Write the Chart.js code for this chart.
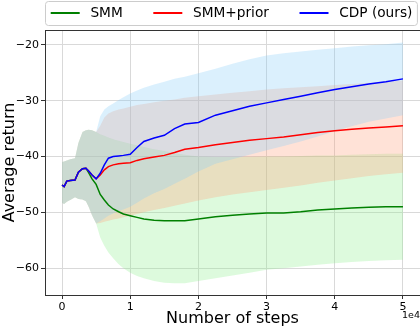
<!DOCTYPE html>
<html>
<head>
<meta charset="utf-8">
<script src="https://cdn.jsdelivr.net/npm/chart.js@4"></script>
<style>
  body { margin: 0; background: #fff; }
</style>
</head>
<body>
<canvas id="myChart" width="420" height="328"></canvas>
<script>
// steps (x axis shown in units of 1e4)
const steps = [0, 300, 700, 1200, 1900, 2400, 3000, 3500, 3900, 4400, 5000,
  5600, 6200, 6800, 7500, 8300, 9000, 10000, 11000, 12000, 13500, 15000, 16500, 18000,
  20000, 22500, 25000, 27500, 30000, 32500, 35000, 37500, 40000, 42500, 45000, 47500, 50000];

const xTicks = [0, 10000, 20000, 30000, 40000, 50000];
const yTicks = [-60, -50, -40, -30, -20];

// SMM
const smm = [-45.1, -45.4, -44.4, -44.3, -44.2, -42.8, -42.2, -42.1, -42.9, -44.0, -45.0,
  -46.8, -47.8, -48.7, -49.4, -49.9, -50.3, -50.6, -50.9, -51.2, -51.4, -51.5, -51.5, -51.5,
  -51.2, -50.8, -50.5, -50.3, -50.1, -50.1, -49.9, -49.6, -49.4, -49.2, -49.1, -49.0, -49.0];
const smmUpper = [-41.0, -40.9, -40.7, -40.5, -40.3, -37.6, -35.6, -35.3, -35.2, -35.3, -35.6,
  -36.0, -36.3, -36.6, -36.9, -37.2, -37.4, -37.7, -38.0, -38.3, -38.7, -39.0, -39.4, -39.7,
  -40.0, -40.1, -40.1, -40.1, -40.0, -40.0, -39.9, -39.8, -39.8, -39.7, -39.6, -39.5, -39.5];
const smmLower = [-48.3, -48.5, -48.1, -47.8, -47.3, -47.6, -47.7, -48.0, -49.0, -50.5, -52.0,
  -54.5, -56.0, -57.2, -58.2, -59.3, -60.0, -60.8, -61.4, -61.8, -62.3, -62.6, -62.7, -62.7,
  -62.3, -61.8, -61.3, -60.8, -60.3, -60.0, -59.7, -59.4, -59.1, -58.9, -58.7, -58.6, -58.5];

// SMM+prior
const prior = [-45.1, -45.4, -44.4, -44.3, -44.2, -42.8, -42.2, -42.1, -42.6, -43.3, -44.0,
  -43.3, -42.4, -41.8, -41.5, -41.3, -41.2, -41.1, -40.7, -40.4, -40.1, -39.8, -39.3, -38.7,
  -38.4, -37.9, -37.5, -37.1, -36.8, -36.5, -36.1, -35.7, -35.4, -35.1, -34.9, -34.7, -34.5];
const priorUpper = [-41.0, -40.9, -40.7, -40.5, -40.3, -37.6, -35.6, -35.3, -35.2, -35.3, -35.6,
  -34.5, -33.0, -32.3, -31.9, -31.6, -31.4, -31.1, -30.8, -30.6, -30.3, -30.0, -29.8, -29.5,
  -29.2, -28.9, -28.6, -28.3, -28.0, -27.8, -27.6, -27.4, -27.2, -27.0, -26.8, -26.6, -26.4];
const priorLower = [-48.3, -48.5, -48.1, -47.8, -47.3, -47.6, -47.7, -48.0, -49.0, -50.5, -52.0,
  -51.9, -51.7, -51.5, -51.3, -51.1, -50.9, -50.6, -50.3, -50.0, -49.6, -49.2, -48.8, -48.4,
  -47.9, -47.3, -46.8, -46.4, -46.0, -45.6, -45.2, -44.7, -44.3, -43.9, -43.5, -43.2, -42.9];

// CDP (ours)
const cdp = [-45.1, -45.4, -44.4, -44.3, -44.2, -42.8, -42.2, -42.1, -42.6, -43.3, -44.0,
  -43.0, -41.5, -40.3, -40.0, -39.9, -39.8, -39.6, -38.4, -37.3, -36.7, -36.2, -35.0, -34.2,
  -33.9, -32.6, -31.8, -31.0, -30.4, -29.8, -29.2, -28.6, -28.0, -27.5, -27.0, -26.6, -26.1];
const cdpUpper = [-41.0, -40.9, -40.7, -40.5, -40.3, -37.6, -35.6, -35.3, -35.2, -35.3, -35.6,
  -32.8, -31.6, -31.0, -30.5, -29.9, -29.4, -28.7, -28.2, -27.7, -27.1, -26.6, -26.1, -25.7,
  -25.1, -24.3, -23.4, -22.6, -21.9, -21.5, -21.2, -20.9, -20.6, -20.3, -20.1, -19.9, -19.6];
const cdpLower = [-48.3, -48.5, -48.1, -47.8, -47.3, -47.6, -47.7, -48.0, -49.0, -50.5, -52.0,
  -51.6, -51.1, -50.6, -50.2, -49.8, -49.5, -49.0, -48.3, -47.5, -46.6, -45.8, -44.9, -44.0,
  -42.7, -41.3, -40.5, -39.7, -38.9, -38.1, -37.3, -36.4, -35.5, -34.6, -33.8, -33.2, -32.6];

const FONT = '"DejaVu Sans", sans-serif';

function pts(arr) {
  return steps.map((s, i) => ({ x: s, y: arr[i] }));
}

function lineSet(label, arr, color, order) {
  return {
    label: label, data: pts(arr), borderColor: color, backgroundColor: color,
    borderWidth: 1.5, pointRadius: 0, fill: false, order: order, tension: 0
  };
}

function edgeSet(arr, order, fillTo, fillColor) {
  return {
    label: '', data: pts(arr), borderColor: 'transparent', borderWidth: 0,
    backgroundColor: fillColor || 'transparent', pointRadius: 0,
    fill: fillTo === undefined ? false : fillTo, order: order, tension: 0
  };
}

// lines first (legend order), then bands
const datasets = [
  lineSet('SMM', smm, '#008000', 2),
  lineSet('SMM+prior', prior, '#ff0000', 1),
  lineSet('CDP (ours)', cdp, '#0000ff', 0),
  edgeSet(cdpUpper, 3),
  edgeSet(cdpLower, 3, 3, 'rgba(135,206,250,0.3)'),
  edgeSet(priorUpper, 4),
  edgeSet(priorLower, 4, 5, 'rgba(255,160,122,0.3)'),
  edgeSet(smmUpper, 5),
  edgeSet(smmLower, 5, 7, 'rgba(144,238,144,0.3)')
];

// frame top spine, matplotlib style legend box and the 1e4 offset text
const extras = {
  id: 'extras',
  afterDraw(chart) {
    const ctx = chart.ctx;
    const a = chart.chartArea;
    ctx.save();
    ctx.strokeStyle = '#333';
    ctx.lineWidth = 1;
    ctx.beginPath();
    ctx.moveTo(a.left, a.top + 0.5);
    ctx.lineTo(a.right, a.top + 0.5);
    ctx.stroke();

    ctx.fillStyle = '#000';
    ctx.font = '9.5px ' + FONT;
    ctx.textAlign = 'right';
    ctx.textBaseline = 'alphabetic';
    ctx.fillText('1e4', a.right, chart.height - 10);

    // legend
    ctx.font = '13.7px ' + FONT;
    ctx.textAlign = 'left';
    ctx.textBaseline = 'middle';
    const items = chart.data.datasets.slice(0, 3);
    let x = 50.7;
    const cy = 13;
    const pos = items.map(ds => {
      const w = ctx.measureText(ds.label).width;
      const p = { x: x, w: w, ds: ds };
      x += 29 + 10.7 + w + 30.6;
      return p;
    });
    const last = pos[pos.length - 1];
    const right = last.x + 29 + 10.7 + last.w + 5;
    ctx.beginPath();
    ctx.roundRect(45.5, 1.5, right - 45.5, 24, 3);
    ctx.fillStyle = 'rgba(255,255,255,0.8)';
    ctx.fill();
    ctx.strokeStyle = '#cccccc';
    ctx.stroke();
    pos.forEach(p => {
      ctx.strokeStyle = p.ds.borderColor;
      ctx.lineWidth = 2;
      ctx.beginPath();
      ctx.moveTo(p.x, cy);
      ctx.lineTo(p.x + 29, cy);
      ctx.stroke();
      ctx.fillStyle = '#000';
      ctx.fillText(p.ds.label, p.x + 29 + 10.7, cy);
    });
    ctx.restore();
  }
};

const config = {
  type: 'line',
  data: { datasets: datasets },
  options: {
    responsive: false,
    animation: false,
    devicePixelRatio: 1,
    layout: { padding: { top: 30, left: 0, right: 0, bottom: 0 } },
    plugins: {
      legend: { display: false },
      tooltip: { enabled: false }
    },
    scales: {
      x: {
        type: 'linear', min: -2500, max: 52500,
        afterBuildTicks: s => { s.ticks = xTicks.map(v => ({ value: v })); },
        afterFit: s => { s.height = 33; },
        ticks: {
          callback: v => String(v / 10000),
          font: { family: FONT, size: 11 }, color: '#000', padding: 2, maxRotation: 0
        },
        grid: { color: '#d9d9d9', tickColor: '#333', tickLength: 4 },
        border: { color: '#333', width: 1 },
        title: { display: true, text: 'Number of steps', font: { family: FONT, size: 16 }, color: '#000', padding: 0 }
      },
      y: {
        type: 'linear', min: -64.8, max: -17.35,
        afterBuildTicks: s => { s.ticks = yTicks.map(v => ({ value: v })); },
        afterFit: s => { s.width = 45; },
        ticks: {
          callback: v => String(v).replace('-', '\u2212'),
          font: { family: FONT, size: 11 }, color: '#000', padding: 2
        },
        grid: { color: '#d9d9d9', tickColor: '#333', tickLength: 4 },
        border: { color: '#333', width: 1 },
        title: { display: true, text: 'Average return', font: { family: FONT, size: 16 }, color: '#000', padding: 0 }
      }
    }
  },
  plugins: [extras]
};

const myChart = new Chart(document.getElementById('myChart'), config);
</script>
</body>
</html>
